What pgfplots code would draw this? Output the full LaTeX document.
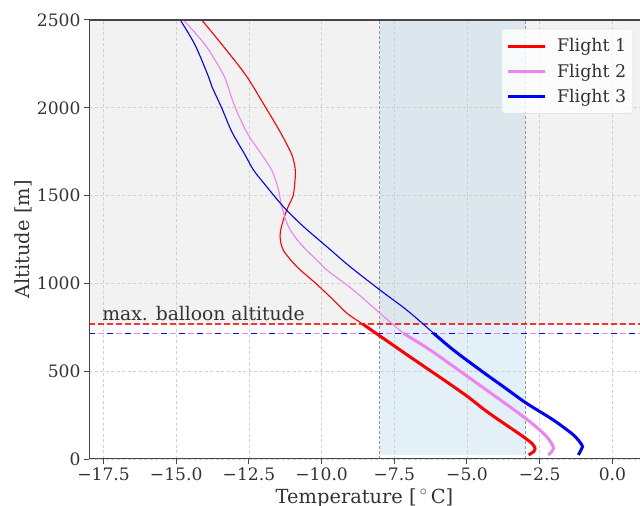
\documentclass[border=0pt]{standalone}
\usepackage{fontspec}
\setmainfont{DejaVu Serif}
\usepackage{pgfplots}
\pgfplotsset{compat=1.18}
\definecolor{txt}{RGB}{51,51,51}
\definecolor{spine}{RGB}{70,70,70}
\definecolor{gridc}{RGB}{208,208,208}
\definecolor{bgg}{RGB}{242,242,242}
\definecolor{band}{RGB}{166,206,227}
\definecolor{fviolet}{RGB}{238,130,238}
\definecolor{fred}{RGB}{255,0,0}
\definecolor{fblue}{RGB}{0,0,255}
\definecolor{bandline}{RGB}{150,150,150}
\definecolor{legbox}{RGB}{220,220,220}
\begin{document}
\begin{tikzpicture}
\begin{axis}[
 set layers,
 at={(0,0)}, anchor=south west,
 width=551bp, height=439bp, scale only axis,
 xmin=-18, xmax=0.95, ymin=0, ymax=2500,
 axis line style={draw=none},
 xtick={-17.5,-15,-12.5,-10,-7.5,-5,-2.5,0},
 xticklabels={−17.5,−15.0,−12.5,−10.0,−7.5,−5.0,−2.5,0.0},
 ytick={0,500,1000,1500,2000,2500},
 yticklabels={0,500,1000,1500,2000,2500},
 tick align=outside, xtick pos=left, ytick pos=left,
 major tick length=5bp,
 tick style={spine, line width=1bp},
 ticklabel style={font=\fontsize{17.2}{20}\selectfont, text=txt},
 grid=major,
 major grid style={gridc, line width=0.8bp, dash pattern=on 3bp off 2.5bp},
 xlabel={Temperature [\,$^\circ$\,C]},
 ylabel={Altitude [m]},
 label style={font=\fontsize{19.5}{23}\selectfont, text=txt},
 xlabel style={at={([yshift=-44bp]axis description cs:0.5,0)}, anchor=base},
 ylabel style={at={([xshift=-59.5bp]axis description cs:0,0.5)}, anchor=base},
 legend style={at={(axis description cs:1,1)}, anchor=north east, xshift=-7bp, yshift=-9bp,
   draw=legbox, fill=white, fill opacity=0.8, draw opacity=1, text opacity=1,
   rounded corners=3bp, font=\fontsize{17.5}{21}\selectfont, text=txt,
   inner xsep=4.5bp, inner ysep=7.5bp, row sep=6.5bp},
 legend cell align=left,
 legend image code/.code={\draw[#1, line width=3bp] (0bp,0bp) -- (37bp,0bp); \path (46bp,0bp);},
]
% backgrounds
\addplot[draw=none, fill=bgg, on layer=axis background, forget plot]
  coordinates {(-18,769) (0.95,769) (0.95,2500) (-18,2500)} -- cycle;
\addplot[draw=none, fill=band, fill opacity=0.3, on layer=axis background, forget plot]
  coordinates {(-8,25) (-3,25) (-3,2500) (-8,2500)} -- cycle;
\addplot[bandline, line width=1bp, dash pattern=on 3bp off 2bp, forget plot]
  coordinates {(-8,0) (-8,2500)};
\addplot[bandline, line width=1bp, dash pattern=on 3bp off 2bp, forget plot]
  coordinates {(-3,0) (-3,2500)};
% max altitude lines
\addplot[fred, opacity=0.8, line width=1.5bp, dash pattern=on 6bp off 3bp, forget plot]
  coordinates {(-18,769) (0.95,769)};
\addplot[fviolet, line width=1.5bp, dash pattern=on 6bp off 3bp, forget plot]
  coordinates {(-18,716) (0.95,716)};
\addplot[fblue, line width=1.5bp, dash pattern=on 6bp off 12bp, forget plot]
  coordinates {(-18,716) (0.95,716)};
\node[anchor=base west, font=\fontsize{18.8}{22}\selectfont, text=txt] at (axis cs:-17.66,791) {max. balloon altitude};
% Flight 1
\addplot[fred, line width=3bp, smooth, tension=0.5] coordinates {
(-8.59,769) (-8.45,753) (-7.46,639) (-6.9,575) (-5.75,445) (-5.0,358) (-4.25,262)
(-3.15,137) (-2.77,89) (-2.66,61) (-2.71,42) (-2.88,23)};
\addlegendentry{Flight 1}
\addplot[fviolet, line width=3bp, smooth, tension=0.5] coordinates {
(-7.19,716) (-6.27,621) (-5.0,472) (-4.65,431) (-3.06,241) (-2.37,146) (-2.09,89)
(-2.03,61) (-2.09,42) (-2.2,23)};
\addlegendentry{Flight 2}
\addplot[fblue, line width=3bp, smooth, tension=0.5] coordinates {
(-6.15,716) (-5.47,621) (-4.55,507) (-3.75,412) (-2.95,317) (-2.03,222) (-1.34,137)
(-1.05,80) (-1.05,61) (-1.17,23)};
\addlegendentry{Flight 3}
\addplot[fred, line width=1.1bp, smooth, tension=0.5, forget plot] coordinates {
(-14.12,2500) (-13.32,2338) (-12.57,2177) (-11.94,2006) (-11.43,1864) (-11.02,1731)
(-10.9,1640) (-10.92,1580) (-10.98,1500) (-11.2,1418) (-11.37,1330) (-11.43,1270)
(-11.32,1190) (-10.85,1095) (-10.2,1000) (-9.59,905) (-9.13,830) (-8.59,769)};
\addplot[fviolet, line width=1.1bp, smooth, tension=0.5, forget plot] coordinates {
(-14.75,2500) (-14.0,2357) (-13.37,2186) (-13.09,2054) (-12.86,1959) (-12.52,1845)
(-12.05,1731) (-11.7,1640) (-11.48,1532) (-11.37,1436) (-11.14,1323) (-10.74,1228)
(-10.05,1114) (-9.82,1076) (-8.91,962) (-7.99,830) (-7.19,716)};
\addplot[fblue, line width=1.1bp, smooth, tension=0.5, forget plot] coordinates {
(-14.86,2500) (-14.35,2357) (-13.89,2177) (-13.77,2120) (-13.43,1997) (-13.09,1864)
(-12.63,1731) (-12.34,1645) (-11.91,1555) (-11.31,1436) (-10.62,1323) (-9.82,1209)
(-9.02,1095) (-7.99,962) (-7.07,848) (-6.27,734) (-6.15,716)};
% spines
\draw[spine, line width=1.2bp] (rel axis cs:0,1) -- (rel axis cs:0,0) -- (rel axis cs:1,0);
\draw[spine, line width=1.2bp] (rel axis cs:0,1) -- (rel axis cs:1,1);
\end{axis}
\pgfresetboundingbox
\path[use as bounding box] (-89bp,-47bp) rectangle (551bp,459bp);
\end{tikzpicture}
\end{document}
